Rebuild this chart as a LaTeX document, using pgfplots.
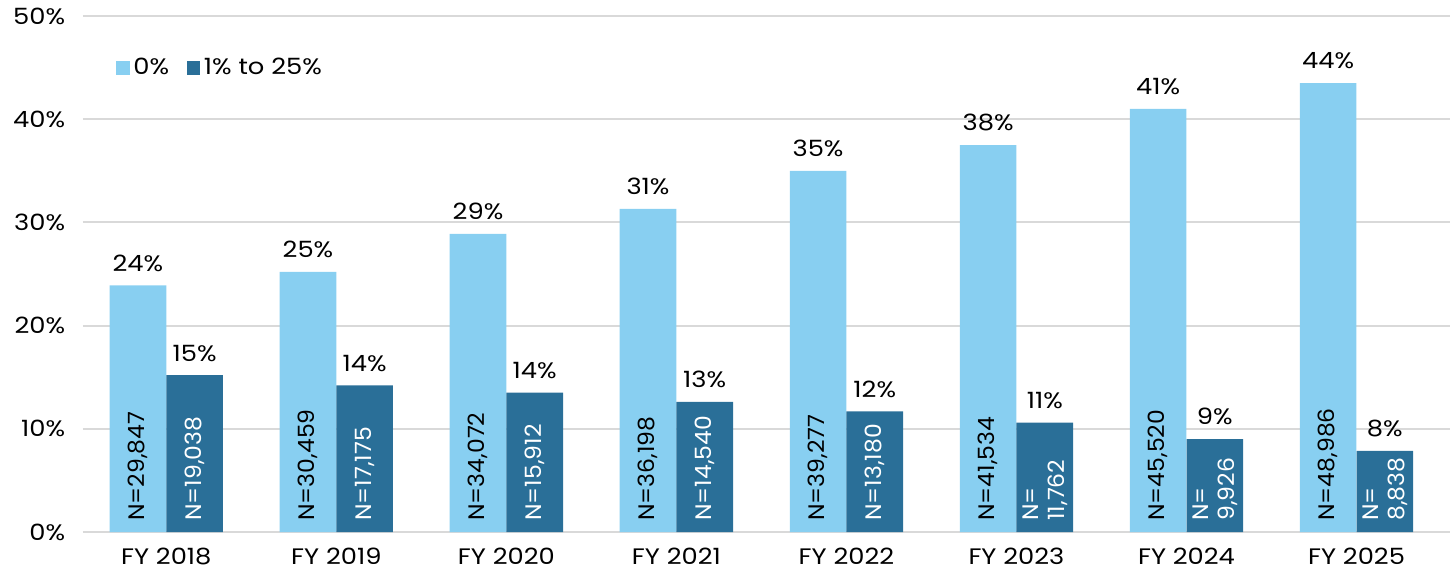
\documentclass[border=0pt]{standalone}
\usepackage{fontspec}
\setmainfont{Poppins}[FakeStretch=1.15]
\newfontfamily\nfont{Poppins}[FakeStretch=1.05]
\usepackage{pgfplots}
\usepackage{pgfplotstable}
\pgfplotsset{compat=1.18}
\definecolor{lightb}{HTML}{88CFF1}
\definecolor{darkb}{HTML}{2A6F98}
\definecolor{gridc}{HTML}{D9D9D9}

\pgfplotstableread{
x y lbl n
0 23.9 24\% N=29,847
1 25.2 25\% N=30,459
2 28.9 29\% N=34,072
3 31.3 31\% N=36,198
4 35.0 35\% N=39,277
5 37.5 38\% N=41,534
6 41.0 41\% N=45,520
7 43.5 44\% N=48,986
}\zero
\pgfplotstableread{
x y lbl n
0 15.2 15\% N=19,038
1 14.2 14\% N=17,175
2 13.5 14\% N=15,912
3 12.6 13\% N=14,540
4 11.7 12\% N=13,180
5 10.6 11\% {N=\\11,762}
6 9.0 9\% {N=\\9,926}
7 7.85 8\% {N=\\8,838}
}\low

\begin{document}
\fontsize{11.2}{13}\selectfont
\begin{tikzpicture}
\begin{axis}[
 scale only axis, width=683.5pt, height=258pt,
 xmin=-0.49, xmax=7.55, ymin=0, ymax=50,
 ytick={0,10,20,30,40,50},
 yticklabels={0\%,10\%,20\%,30\%,40\%,50\%},
 xtick={0,1,2,3,4,5,6,7},
 xticklabels={FY 2018,FY 2019,FY 2020,FY 2021,FY 2022,FY 2023,FY 2024,FY 2025},
 axis line style={draw=none}, major tick length=0pt,
 ymajorgrids, grid style={gridc, line width=1pt},
 yticklabel style={xshift=-5pt},
 xticklabel style={yshift=-4pt},
 ybar, bar width=0.333,
 clip=false,
 legend style={at={(rel axis cs:0.024,0.899)}, anchor=west, draw=none, fill=none,
   inner sep=0pt,
   legend columns=-1, /tikz/every even column/.append style={column sep=7pt},
   nodes={inner sep=1.8pt},
   font=\fontsize{11.2}{13}\selectfont},
 legend image code/.code={\fill[#1] (0pt,-3.4pt) rectangle (6.8pt,3.4pt);},
]
\addplot[fill=lightb, draw=none, bar shift=-0.1667, point meta=explicit symbolic,
  nodes near coords, nodes near coords style={black, yshift=3pt}]
  table[x=x, y=y, meta=lbl] {\zero};
\addplot[fill=darkb, draw=none, bar shift=0.1667, point meta=explicit symbolic,
  nodes near coords, nodes near coords style={black, yshift=3pt}]
  table[x=x, y=y, meta=lbl] {\low};
\legend{0\%, 1\% to 25\%}
\addplot[forget plot, draw=none, fill=none, bar shift=-0.1667, point meta=explicit symbolic,
  nodes near coords, nodes near coords style={black, font=\nfont, yshift=5.5pt, rotate=90, anchor=west, inner sep=0pt}]
  table[x=x, y expr=0, meta=n] {\zero};
\addplot[forget plot, draw=none, fill=none, bar shift=0.1667, point meta=explicit symbolic,
  nodes near coords, nodes near coords style={white, font=\nfont, yshift=5.5pt, rotate=90, anchor=west, inner sep=0pt, align=left}]
  table[x=x, y expr=0, meta=n] {\low};
\coordinate (bl) at (rel axis cs:-0.0607,-0.0853);
\coordinate (tr) at (rel axis cs:1,1.031);
\end{axis}
\pgfresetboundingbox
\path (bl) rectangle (tr);
\end{tikzpicture}
\end{document}
